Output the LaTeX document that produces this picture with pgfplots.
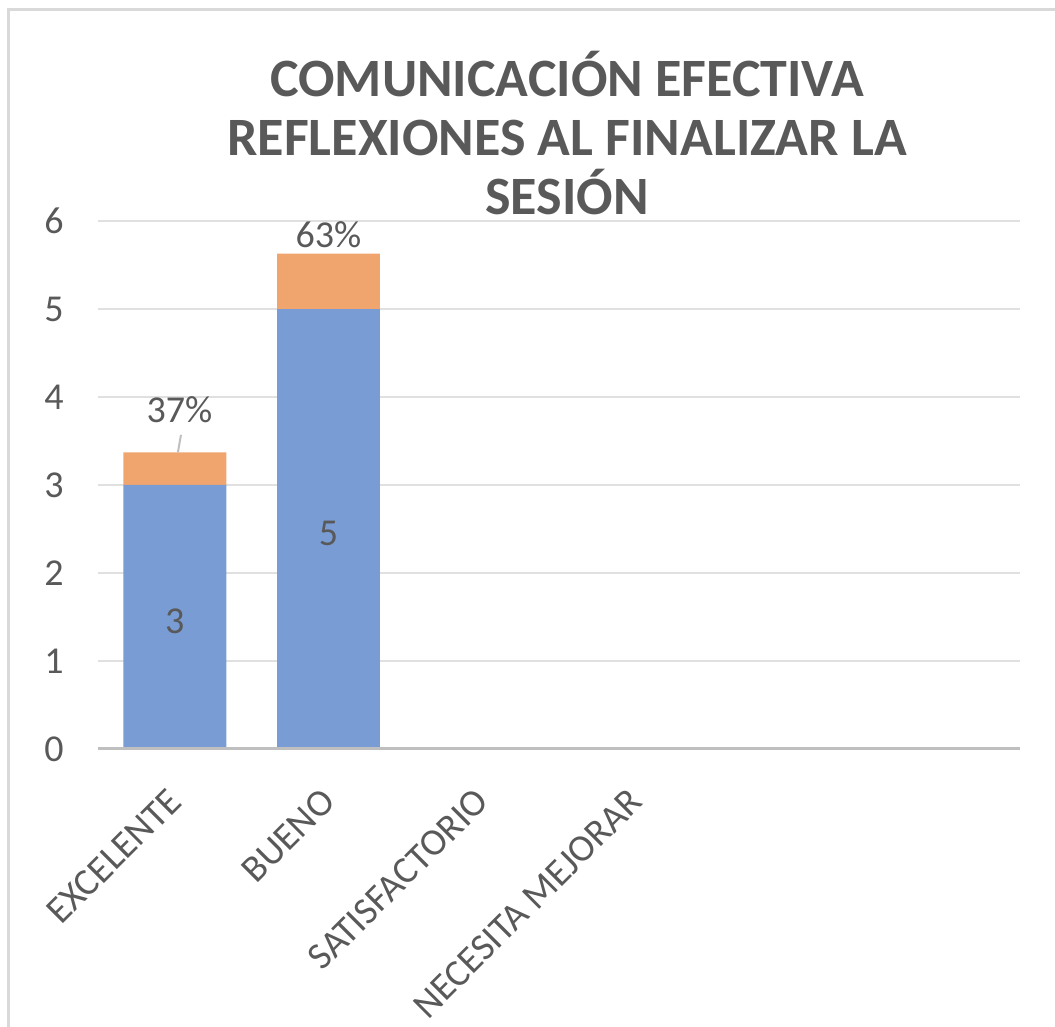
\documentclass[border=0pt]{standalone}
\usepackage{pgfplots}
\pgfplotsset{compat=1.18}
\usepackage{pgfplotstable}
\usepackage{fontspec}
\setmainfont{Carlito}
\definecolor{barblue}{HTML}{7A9CD4}
\definecolor{barorange}{HTML}{F1A56E}
\definecolor{txt}{HTML}{595959}
\definecolor{gridc}{HTML}{E0E0E0}
\definecolor{axisc}{HTML}{BFBFBF}
\definecolor{framec}{HTML}{D9D9D9}
\pgfplotstableread{
x y
0 3
1 5
}\bluedata
\pgfplotstableread{
x y
0 0.37
1 0.63
}\orangedata
\begin{document}
\begin{tikzpicture}
\path[use as bounding box] (0pt,0pt) rectangle (527.5pt,513.5pt);
\draw[framec, line width=1.5pt] (4pt,0pt) -- (4pt,508.5pt) -- (527.5pt,508.5pt);
\node[text=txt, font=\fontsize{27}{29.5}\selectfont\bfseries, align=center] at (283.5pt,447pt)
  {COMUNICACIÓN EFECTIVA\\REFLEXIONES AL FINALIZAR LA\\SESIÓN};
\begin{axis}[
  at={(49pt,139pt)}, anchor=south west,
  scale only axis, width=461pt, height=264pt,
  ybar stacked, bar width=0.67,
  xmin=-0.5, xmax=5.5, ymin=0, ymax=6,
  xtick={0,1,2,3,4,5},
  xticklabels={EXCELENTE,BUENO,SATISFACTORIO,NECESITA MEJORAR,{},{}},
  ytick={0,1,2,3,4,5,6},
  axis line style={draw=none},
  axis x line*=bottom,
  axis y line*=left,
  ymajorgrids, grid style={gridc, line width=1pt},
  major tick length=0pt,
  tick label style={text=txt, font=\fontsize{19}{21}\selectfont},
  /pgf/number format/assume math mode=true,
  xticklabel style={anchor=north east, inner sep=0pt, xshift=-4.5pt, yshift=-18.5pt, rotate=45},
  yticklabel style={anchor=east, inner sep=0pt, xshift=-17pt},
  clip=false,
  after end axis/.append code={
    \draw[axisc, line width=1.5pt] (axis cs:-0.5,0) -- (axis cs:5.5,0);
    \draw[axisc, line width=1pt] (axis cs:0.02,3.37) -- (axis cs:0.04,3.57);
    \node[text=txt, font=\fontsize{19}{21}\selectfont] at (axis cs:0,1.45) {3};
    \node[text=txt, font=\fontsize{19}{21}\selectfont] at (axis cs:1,2.45) {5};
    \node[text=txt, font=\fontsize{19}{21}\selectfont] at (axis cs:0.03,3.86) {37\%};
    \node[text=txt, font=\fontsize{19}{21}\selectfont] at (axis cs:1,5.85) {63\%};
  },
]
\addplot[fill=barblue, draw=none] table[x=x, y=y] {\bluedata};
\addplot[fill=barorange, draw=none] table[x=x, y=y] {\orangedata};
\end{axis}
\end{tikzpicture}
\end{document}
